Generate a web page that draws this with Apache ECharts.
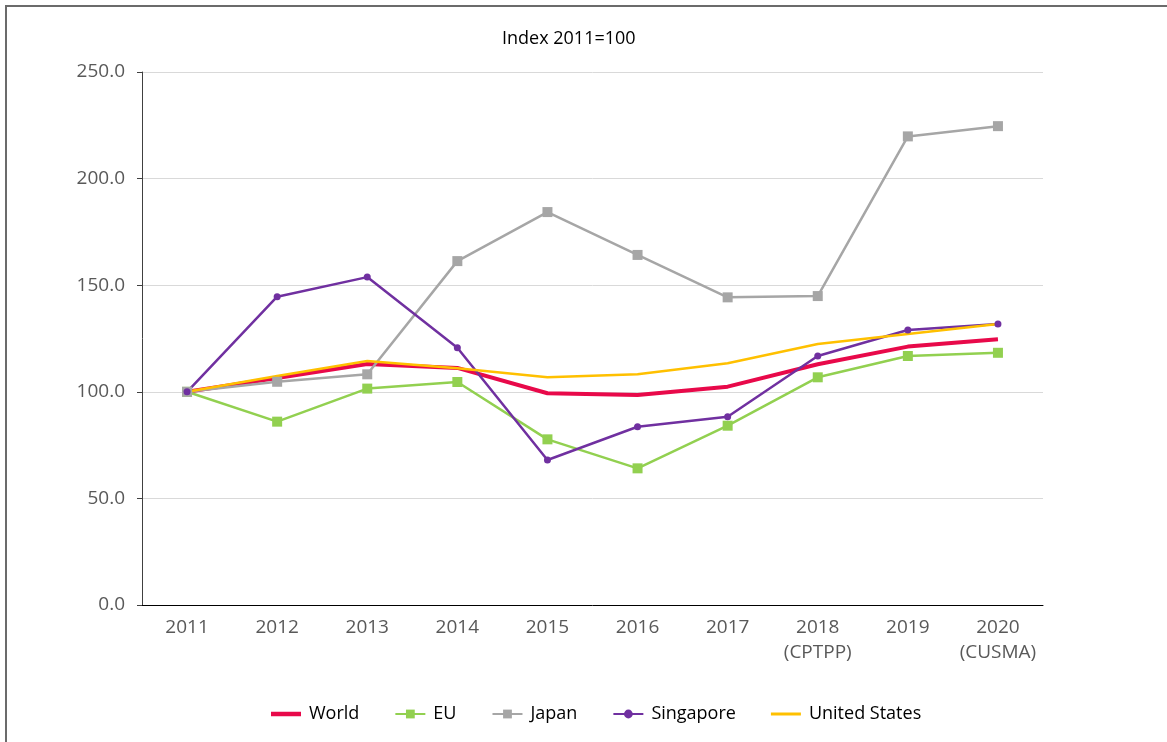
<!DOCTYPE html>
<html>
<head>
<meta charset="utf-8">
<script src="https://cdn.jsdelivr.net/npm/echarts@6/dist/echarts.min.js"></script>
<style>
html,body{margin:0;padding:0;background:#fff;overflow:hidden;}
.frame{position:absolute;left:5px;top:5px;width:1200px;height:800px;border:2px solid #6b6b6b;box-sizing:border-box;}
#chart{position:absolute;left:0;top:0;width:1167px;height:742px;}
</style>
</head>
<body>
<div class="frame"></div>
<div id="chart"></div>
<script>
var years = ['2011', '2012', '2013', '2014', '2015', '2016', '2017', '2018\n(CPTPP)', '2019', '2020\n(CUSMA)'];
var yTicks = [0, 50, 100, 150, 200, 250];

var world = [100, 106.5, 113, 111.2, 99.3, 98.5, 102.4, 112.9, 121.2, 124.6];
var eu = [100, 86.0, 101.5, 104.6, 77.7, 64.1, 84.1, 106.8, 116.8, 118.3];
var japan = [100, 104.7, 108.2, 161.3, 184.3, 164.2, 144.3, 144.9, 219.8, 224.6];
var singapore = [100, 144.6, 153.8, 120.7, 68.0, 83.6, 88.3, 116.8, 129.0, 131.8];
var unitedStates = [100, 107.4, 114.4, 111.0, 106.8, 108.2, 113.4, 122.4, 127.1, 131.8];

var font = 'Open Sans';
var chart = echarts.init(document.getElementById('chart'));

function lineSeries(name, data, color, width, symbol, size){
    return {
        name: name,
        type: 'line',
        data: data,
        symbol: symbol,
        symbolSize: size,
        showSymbol: symbol != 'none',
        lineStyle: {color: color, width: width},
        itemStyle: {color: color},
        emphasis: {disabled: true},
        animation: false
    }
}

var options = {
    title: {
        text: 'Index 2011=100',
        left: 497,
        top: 25,
        textStyle: {fontFamily: font, fontSize: 18, fontWeight: 'normal', color: '#000'}
    },
    grid: {left: 142, right: 124, top: 72, bottom: 137},
    legend: {
        left: 266,
        top: 700,
        itemWidth: 30,
        itemHeight: 11,
        itemGap: 35,
        textStyle: {fontFamily: font, fontSize: 18, color: '#000', padding: [0, 0, 0, 3]},
        data: [
            {name: 'World', icon: 'path://M0,0H30V4.5H0Z'},
            'EU',
            'Japan',
            'Singapore',
            {name: 'United States', icon: 'path://M0,0H30V3H0Z'}
        ]
    },
    xAxis: {
        type: 'category',
        data: years,
        boundaryGap: true,
        axisLine: {lineStyle: {color: '#000', width: 1}},
        axisTick: {length: 5, lineStyle: {color: '#000'}},
        axisLabel: {fontFamily: font, fontSize: 19, color: '#595959', margin: 10, lineHeight: 25, interval: 0}
    },
    yAxis: {
        type: 'value',
        min: 0,
        max: 250,
        interval: 50,
        axisLine: {show: true, lineStyle: {color: '#404040', width: 1}},
        axisTick: {show: true, length: 5, lineStyle: {color: '#404040'}},
        axisLabel: {
            fontFamily: font, fontSize: 19, color: '#595959', margin: 17,
            formatter: function(v){ return yTicks.indexOf(v) >= 0 ? v.toFixed(1) : ''; }
        },
        splitLine: {lineStyle: {color: '#d9d9d9', width: 1}}
    },
    series: [
        lineSeries('World', world, '#e8094a', 4, 'none', 0),
        lineSeries('EU', eu, '#92d050', 2.5, 'rect', 10),
        lineSeries('Japan', japan, '#a6a6a6', 2.5, 'rect', 10),
        lineSeries('Singapore', singapore, '#7030a0', 2.5, 'circle', 7),
        lineSeries('United States', unitedStates, '#ffc000', 2.5, 'none', 0)
    ]
};
chart.setOption(options);
</script>
</body>
</html>
